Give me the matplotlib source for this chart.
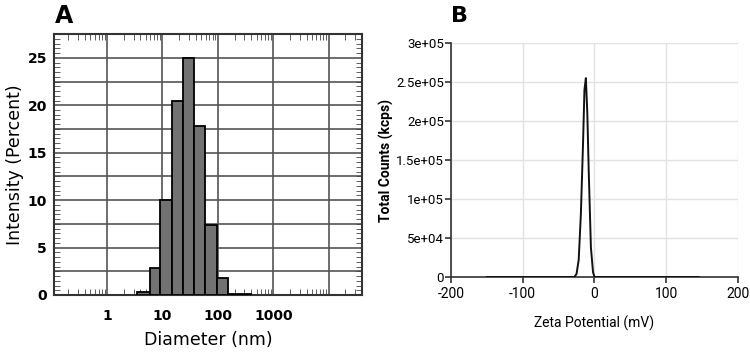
import matplotlib
matplotlib.use('Agg')
import matplotlib.pyplot as plt
import numpy as np
from matplotlib.ticker import LogLocator, NullFormatter, MultipleLocator

# Panel A: size distribution by intensity (log bins)
bin_edges = [3.5, 5.9, 9.2, 14.8, 23.8, 36.8, 59.0, 95.5, 154.0, 400.0]
intensity = [0.3, 2.8, 10.0, 20.5, 25.0, 17.8, 7.4, 1.8, 0.1]
size_ticks = [1, 10, 100, 1000]

# Panel B: zeta potential distribution
zeta = [-150, -28, -25, -22, -19, -16, -14, -12, -10, -8, -5, -2, 0, 145]
counts = [0, 0, 4e3, 2.2e4, 8e4, 1.7e5, 2.4e5, 2.55e5, 2.1e5, 1.35e5, 3.8e4, 6e3, 0, 0]
zeta_ticks = [-200, -100, 0, 100, 200]
count_ticks = [0, 5e4, 1e5, 1.5e5, 2e5, 2.5e5, 3e5]
count_labels = ['0', '5e+04', '1e+05', '1.5e+05', '2e+05', '2.5e+05', '3e+05']

fig = plt.figure(figsize=(7.5, 3.54), dpi=100)

# ---- A ----
axA = fig.add_axes([0.072, 0.1667, 0.4107, 0.737])
lefts = np.array(bin_edges[:-1])
widths = np.diff(bin_edges)
axA.bar(lefts, intensity, width=widths, align='edge', color='#727272',
        edgecolor='black', linewidth=1.3, zorder=3)
axA.set_xscale('log')
axA.set_xlim(0.11, 40000)
axA.set_ylim(0, 27.5)
axA.set_xticks(size_ticks + [10000])
axA.set_xticklabels([str(t) for t in size_ticks] + [''])
axA.xaxis.set_minor_locator(LogLocator(base=10, subs=np.arange(2, 10)))
axA.xaxis.set_minor_formatter(NullFormatter())
axA.set_yticks(np.arange(0, 26, 5))
axA.yaxis.set_minor_locator(MultipleLocator(0.5))
axA.grid(True, which='major', axis='x', color='#555555', linewidth=1.2, zorder=0)
for yv in np.arange(2.5, 27.5, 2.5):
    axA.axhline(yv, color='#555555', linewidth=1.2, zorder=0)
axA.tick_params(axis='x', which='major', direction='in', length=0,
                labelsize=10, pad=10)
axA.tick_params(axis='y', which='major', direction='in', length=0,
                labelsize=10, pad=5)
axA.tick_params(axis='x', which='minor', direction='in', length=4,
                top=True, bottom=True, color='#444444')
axA.tick_params(axis='y', which='minor', direction='in', length=4,
                left=True, right=True, color='#444444')
for lab in axA.get_xticklabels() + axA.get_yticklabels():
    lab.set_fontweight('bold')
for s in axA.spines.values():
    s.set_color('#333333')
    s.set_linewidth(1.5)
axA.set_ylabel('Intensity (Percent)', fontsize=12.5, va='center')
axA.yaxis.set_label_coords(-0.125, 0.5)
axA.set_xlabel('Diameter (nm)', fontsize=12.5, va='center')
axA.xaxis.set_label_coords(0.5, -0.172)
fig.text(0.073, 0.955, 'A', fontsize=17, fontweight='bold', ha='left', va='center')

# ---- B ----
fontB = ['Roboto', 'DejaVu Sans']
axB = fig.add_axes([0.6013, 0.2175, 0.3827, 0.661])
axB.plot(zeta, counts, color='#111111', linewidth=1.4, zorder=3)
axB.set_xlim(-200, 200)
axB.set_ylim(0, 3e5)
axB.set_xticks(zeta_ticks)
axB.set_xticklabels([str(t) for t in zeta_ticks], family=fontB, fontsize=10)
axB.set_yticks(count_ticks)
axB.set_yticklabels(count_labels, family=fontB, fontsize=9.5)
axB.grid(True, color='#e2e2e2', linewidth=1.0, zorder=0)
for side in ['top', 'right']:
    axB.spines[side].set_visible(False)
for side in ['left', 'bottom']:
    axB.spines[side].set_color('#333333')
    axB.spines[side].set_linewidth(1.2)
axB.tick_params(axis='y', direction='out', length=4, width=1.2,
                color='#333333', pad=1)
axB.tick_params(axis='x', direction='out', length=4, width=1.2,
                color='#333333', pad=3)
axB.set_ylabel('Total Counts (kcps)', family=fontB, fontsize=10,
               fontweight='bold', va='center')
axB.yaxis.set_label_coords(-0.225, 0.5)
axB.set_xlabel('Zeta Potential (mV)', family=fontB, fontsize=10, va='center')
axB.xaxis.set_label_coords(0.5, -0.2)
fig.text(0.6013, 0.955, 'B', fontsize=16, fontweight='bold', ha='left', va='center')

fig.savefig('out.png', dpi=100)
